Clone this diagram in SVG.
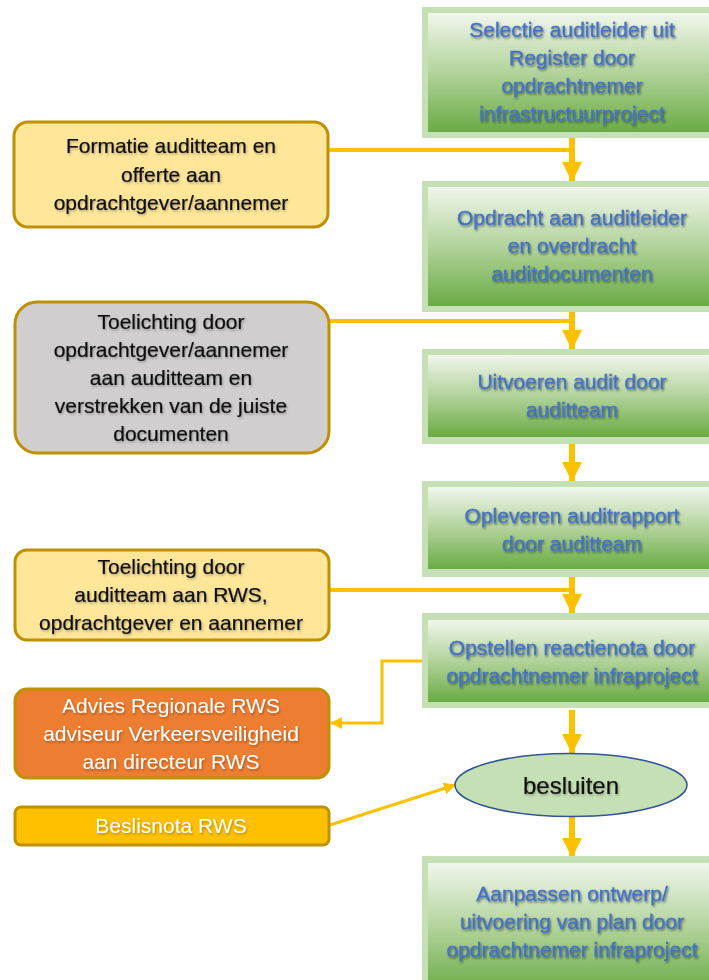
<svg xmlns="http://www.w3.org/2000/svg" width="709" height="980" viewBox="0 0 709 980">
<style>
.t{font-family:"Liberation Sans",Arial,sans-serif;font-size:21px;text-anchor:middle}
.gt{fill:#4472c4;stroke:#4472c4;stroke-width:0.35;filter:url(#sh)}
.bt{fill:#111;stroke:#111;stroke-width:0.2;filter:url(#sh2)}
.wt{fill:#fff;filter:url(#sh2)}
.outer{fill:#c5e0b4}
.inner{fill:url(#gg)}
.lb{stroke:#bf9000;stroke-width:3}
.c{stroke:#ffc000;fill:none}
</style>
<defs>
<linearGradient id="gg" x1="0" y1="0" x2="0" y2="1">
<stop offset="0" stop-color="#f0f6ec"/>
<stop offset="0.5" stop-color="#b2d39b"/>
<stop offset="1" stop-color="#6aab44"/>
</linearGradient>
<linearGradient id="og" x1="0" y1="0" x2="1" y2="1">
<stop offset="0" stop-color="#c5e0b4"/>
<stop offset="0.7" stop-color="#c9e2b9"/>
<stop offset="1" stop-color="#eef6ea"/>
</linearGradient>
<filter id="sh" x="-10%" y="-30%" width="120%" height="160%">
<feDropShadow dx="1" dy="1.5" stdDeviation="1.3" flood-color="#000" flood-opacity="0.5"/>
</filter>
<filter id="sh2" x="-10%" y="-30%" width="120%" height="160%">
<feDropShadow dx="1" dy="1.5" stdDeviation="1" flood-color="#000" flood-opacity="0.3"/>
</filter>
<marker id="ah" markerUnits="userSpaceOnUse" markerWidth="20" markerHeight="20" viewBox="0 0 20 20" refX="19" refY="10" orient="auto">
<path d="M0,0 L20,10 L0,20 Z" fill="#ffc000"/>
</marker>
<marker id="as" markerUnits="userSpaceOnUse" markerWidth="12" markerHeight="12" viewBox="0 0 12 12" refX="11" refY="6" orient="auto">
<path d="M0,0 L12,6 L0,12 Z" fill="#ffc000"/>
</marker>
</defs>
<rect width="709" height="980" fill="#fff"/>

<g id="connectors">
<path class="c" stroke-width="4" d="M328,150 H572"/>
<path class="c" stroke-width="4" d="M328,321 H572"/>
<path class="c" stroke-width="4" d="M329,590 H572"/>
<path class="c" stroke-width="6" d="M572,138 V181" marker-end="url(#ah)"/>
<path class="c" stroke-width="6" d="M572,312 V349" marker-end="url(#ah)"/>
<path class="c" stroke-width="6" d="M572,444 V481" marker-end="url(#ah)"/>
<path class="c" stroke-width="6" d="M572,577 V613" marker-end="url(#ah)"/>
<path class="c" stroke-width="6" d="M572,710 V753" marker-end="url(#ah)"/>
<path class="c" stroke-width="6" d="M572,816 V857" marker-end="url(#ah)"/>
<path class="c" stroke-width="3" d="M423,661 H382 V723 H331" marker-end="url(#as)"/>
<path class="c" stroke-width="3" d="M330,825 L455,785" marker-end="url(#as)"/>
</g>

<g id="n1">
<rect class="outer" x="422" y="7" width="300" height="131" fill="url(#og)"/>
<rect class="inner" x="428" y="13" width="290" height="119"/>
<text class="t gt"><tspan x="572" y="37">Selectie auditleider uit</tspan><tspan x="572" y="65">Register door</tspan><tspan x="572" y="93">opdrachtnemer</tspan><tspan x="572" y="121">infrastructuurproject</tspan></text>
</g>
<g id="n2">
<rect class="outer" x="422" y="181" width="300" height="131" fill="url(#og)"/>
<rect class="inner" x="428" y="187" width="290" height="119"/>
<text class="t gt"><tspan x="572" y="225">Opdracht aan auditleider</tspan><tspan x="572" y="253">en overdracht</tspan><tspan x="572" y="281">auditdocumenten</tspan></text>
</g>
<g id="n3">
<rect class="outer" x="422" y="349" width="300" height="95" fill="url(#og)"/>
<rect class="inner" x="428" y="355" width="290" height="82"/>
<text class="t gt"><tspan x="572" y="389">Uitvoeren audit door</tspan><tspan x="572" y="417">auditteam</tspan></text>
</g>
<g id="n4">
<rect class="outer" x="422" y="481" width="300" height="96" fill="url(#og)"/>
<rect class="inner" x="428" y="487" width="290" height="82"/>
<text class="t gt"><tspan x="572" y="523">Opleveren auditrapport</tspan><tspan x="572" y="551">door auditteam</tspan></text>
</g>
<g id="n5">
<rect class="outer" x="422" y="613" width="300" height="95" fill="url(#og)"/>
<rect class="inner" x="428" y="620" width="290" height="82"/>
<text class="t gt"><tspan x="572" y="655">Opstellen reactienota door</tspan><tspan x="572" y="683">opdrachtnemer infraproject</tspan></text>
</g>
<g id="n6">
<rect class="outer" x="422" y="856" width="300" height="140" fill="url(#og)"/>
<rect class="inner" x="428" y="863" width="290" height="130"/>
<text class="t gt"><tspan x="572" y="901">Aanpassen ontwerp/</tspan><tspan x="572" y="929">uitvoering van plan door</tspan><tspan x="572" y="957">opdrachtnemer infraproject</tspan></text>
</g>

<g id="besluiten">
<ellipse cx="571" cy="785" rx="116" ry="31.5" fill="#c5e0b4" stroke="#2f5597" stroke-width="1.5"/>
<text class="t bt" x="571" y="794" style="font-size:24px">besluiten</text>
</g>

<g id="formatie">
<rect class="lb" x="14" y="122" width="314" height="105" rx="14" fill="#ffe699"/>
<text class="t bt"><tspan x="171" y="153">Formatie auditteam en</tspan><tspan x="171" y="182">offerte aan</tspan><tspan x="171" y="210">opdrachtgever/aannemer</tspan></text>
</g>
<g id="toelichting1">
<rect class="lb" x="15" y="302" width="314" height="151" rx="22" fill="#d0cece"/>
<text class="t bt"><tspan x="171" y="329">Toelichting door</tspan><tspan x="171" y="357">opdrachtgever/aannemer</tspan><tspan x="171" y="385">aan auditteam en</tspan><tspan x="171" y="413">verstrekken van de juiste</tspan><tspan x="171" y="441">documenten</tspan></text>
</g>
<g id="toelichting2">
<rect class="lb" x="15" y="550" width="314" height="90" rx="12" fill="#ffe699"/>
<text class="t bt"><tspan x="171" y="574">Toelichting door</tspan><tspan x="171" y="602">auditteam aan RWS,</tspan><tspan x="171" y="630">opdrachtgever en aannemer</tspan></text>
</g>
<g id="advies">
<rect class="lb" x="15" y="689" width="314" height="89" rx="12" fill="#ed7d31"/>
<text class="t wt"><tspan x="171" y="713">Advies Regionale RWS</tspan><tspan x="171" y="741">adviseur Verkeersveiligheid</tspan><tspan x="171" y="769">aan directeur RWS</tspan></text>
</g>
<g id="beslisnota">
<rect class="lb" x="15" y="807" width="314" height="38" rx="6" fill="#ffc000"/>
<text class="t wt" x="171" y="833">Beslisnota RWS</text>
</g>
</svg>
